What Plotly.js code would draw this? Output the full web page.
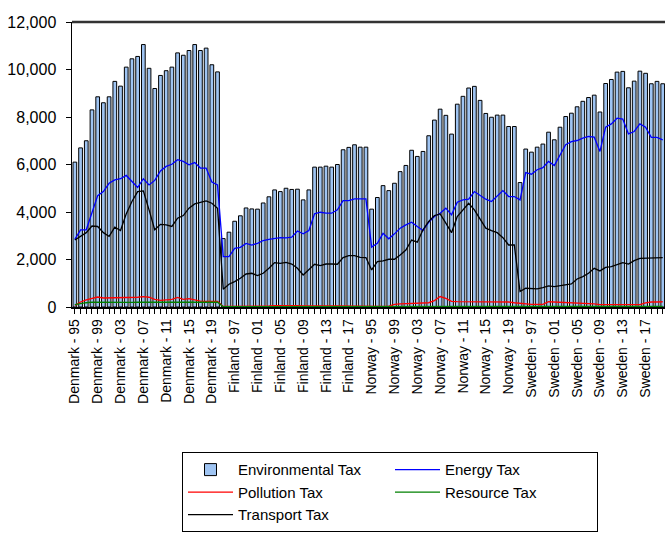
<!DOCTYPE html>
<html>
<head>
<meta charset="utf-8">
<script src="https://cdn.plot.ly/plotly-3.0.1.min.js"></script>
<style>html,body{margin:0;padding:0;background:#fff;}#chart{width:665px;height:536px;}</style>
</head>
<body>
<div id="chart"></div>
<script>
const countries = ["Denmark", "Finland", "Norway", "Sweden"];
const years = ["95","96","97","98","99","00","01","02","03","04","05","06","07","08","09","10","11","12","13","14","15","16","17","18","19","20"];

const environmentalTax = [
  6100, 6700, 7000, 8300, 8850, 8600, 8850, 9500, 9300, 10100, 10450, 10550, 11050, 10050, 9200, 9750, 9950, 10100, 10700, 10600, 10800, 11050, 10800, 10900, 10200, 9900,
  2880, 3150, 3610, 3840, 4170, 4130, 4120, 4380, 4640, 4930, 4860, 5000, 4950, 4960, 4510, 4930, 5890, 5890, 5930, 5890, 6000, 6620, 6720, 6830, 6730, 6730,
  4120, 4610, 5110, 4900, 5210, 5700, 5960, 6600, 6340, 6550, 7210, 7870, 8330, 8070, 7280, 8540, 8870, 9220, 9290, 8700, 8150, 7990, 8080, 8080, 7600, 7600,
  5240, 6650, 6520, 6730, 6860, 7360, 7040, 7570, 8020, 8160, 8430, 8660, 8820, 8920, 8210, 9410, 9580, 9890, 9920, 9230, 9510, 9930, 9840, 9400, 9500, 9400
];
const energyTax = [
  2850, 3250, 3250, 3950, 4690, 4860, 5210, 5350, 5400, 5540, 5280, 5030, 5400, 5140, 5330, 5730, 5920, 6010, 6200, 6130, 5990, 6080, 5850, 5850, 5260, 5140,
  2120, 2120, 2470, 2510, 2680, 2610, 2680, 2800, 2850, 2890, 2920, 2910, 2940, 3200, 3080, 3220, 3920, 3990, 3950, 3950, 4090, 4480, 4480, 4550, 4550, 4550,
  2520, 2680, 3100, 2870, 3080, 3320, 3460, 3570, 3390, 3220, 3570, 3810, 3950, 4160, 3880, 4410, 4510, 4540, 4860, 4690, 4540, 4440, 4680, 4900, 4650, 4650,
  4510, 5660, 5590, 5780, 5870, 6130, 5960, 6410, 6830, 6960, 7010, 7110, 7180, 7150, 6550, 7570, 7710, 7950, 7910, 7290, 7390, 7710, 7570, 7140, 7140, 7040
];
const pollutionTax = [
  70, 210, 300, 370, 420, 380, 380, 400, 410, 400, 400, 410, 440, 410, 320, 280, 300, 320, 400, 320, 350, 300, 250, 240, 240, 240,
  20, 20, 25, 30, 30, 35, 40, 40, 45, 55, 60, 70, 70, 60, 50, 55, 65, 60, 55, 50, 45, 40, 40, 35, 30, 30,
  30, 30, 30, 40, 110, 130, 140, 150, 160, 160, 180, 270, 440, 360, 240, 230, 230, 230, 230, 210, 210, 210, 210, 210, 210, 180,
  150, 130, 110, 110, 110, 220, 210, 200, 200, 170, 150, 150, 150, 130, 100, 100, 100, 80, 80, 80, 80, 100, 170, 210, 210, 220
];
const resourceTax = [
  100, 150, 180, 205, 200, 195, 195, 200, 195, 195, 195, 200, 200, 195, 190, 190, 195, 195, 200, 195, 195, 195, 195, 200, 205, 200,
  10, 10, 10, 10, 12, 12, 12, 12, 12, 12, 12, 12, 12, 12, 12, 12, 12, 12, 12, 12, 12, 12, 12, 12, 12, 12,
  20, 20, 20, 22, 22, 22, 22, 22, 22, 22, 22, 22, 22, 22, 22, 22, 22, 22, 22, 22, 22, 22, 22, 22, 22, 22,
  28, 28, 28, 28, 28, 28, 28, 28, 28, 28, 28, 28, 28, 28, 28, 28, 28, 28, 28, 28, 28, 28, 28, 28, 28, 28
];
const transportTax = [
  2820, 2970, 3130, 3410, 3390, 3130, 2970, 3360, 3220, 3920, 4440, 4860, 4890, 4090, 3250, 3480, 3460, 3390, 3740, 3850, 4160, 4340, 4400, 4470, 4370, 4160,
  750, 960, 1070, 1210, 1390, 1420, 1320, 1420, 1630, 1870, 1840, 1880, 1810, 1630, 1350, 1590, 1800, 1740, 1810, 1810, 1800, 2080, 2160, 2160, 2090, 2080,
  1560, 1910, 1940, 2010, 2010, 2190, 2400, 2820, 2730, 3250, 3600, 3850, 3920, 3530, 3130, 3810, 4090, 4370, 4090, 3700, 3320, 3220, 3130, 2920, 2610, 2610,
  650, 790, 760, 760, 820, 890, 860, 900, 930, 970, 1180, 1280, 1420, 1630, 1520, 1670, 1700, 1770, 1870, 1810, 1950, 2050, 2050, 2050, 2080, 2080
];

const categories = [];
countries.forEach(c => years.forEach(y => categories.push(c + " - " + y)));
const tickText = categories.map((c, i) => (i % 4 === 0 ? c : ""));

const lineTrace = (name, y, color) => ({
  type: "scatter", mode: "lines", name: name, x: categories, y: y,
  line: {color: color, width: 1.3}
});

const data = [
  {type: "bar", name: "Environmental Tax", x: categories, y: environmentalTax,
   marker: {color: "#9fc4f2", line: {color: "#000000", width: 1}}},
  lineTrace("Energy Tax", energyTax, "#0000ff"),
  lineTrace("Pollution Tax", pollutionTax, "#ff0000"),
  lineTrace("Resource Tax", resourceTax, "#008000"),
  lineTrace("Transport Tax", transportTax, "#000000")
];

const layout = {
  width: 665, height: 536,
  margin: {l: 72, r: 0, t: 22, b: 229, autoexpand: false},
  paper_bgcolor: "#ffffff", plot_bgcolor: "#ffffff",
  font: {family: "Liberation Sans, Arial, sans-serif", color: "#000000", size: 16},
  bargap: 0.35,
  showlegend: true,
  legend: {
    orientation: "h", x: 0.1855, y: -0.51, xanchor: "left", yanchor: "top",
    entrywidth: 147, entrywidthmode: "pixels",
    bordercolor: "#000000", borderwidth: 1, bgcolor: "#ffffff",
    font: {size: 15}, tracegroupgap: 0, itemwidth: 45
  },
  xaxis: {
    type: "category", range: [-0.5, 103.4], automargin: false,
    tickmode: "array", tickvals: categories, ticktext: tickText,
    tickangle: -90, tickfont: {size: 14},
    ticks: "outside", ticklen: 5, tickcolor: "#000000", tickwidth: 1,
    showline: true, linecolor: "#000000", linewidth: 1.5,
    showgrid: false, zeroline: false, fixedrange: true
  },
  yaxis: {
    range: [0, 12000], tickmode: "linear", tick0: 0, dtick: 2000, automargin: false,
    tickformat: ",d", tickfont: {size: 16},
    ticks: "outside", ticklen: 5, tickcolor: "#000000", ticklabelstandoff: 6,
    showline: true, linecolor: "#000000", linewidth: 1.5,
    showgrid: false, zeroline: false, fixedrange: true
  },
  shapes: [
    {type: "line", xref: "paper", yref: "paper", x0: 0, x1: 1, y0: 1, y1: 1,
     line: {color: "#333333", width: 2.5}}
  ]
};

Plotly.newPlot("chart", data, layout, {displayModeBar: false, staticPlot: true});
</script>
</body>
</html>
